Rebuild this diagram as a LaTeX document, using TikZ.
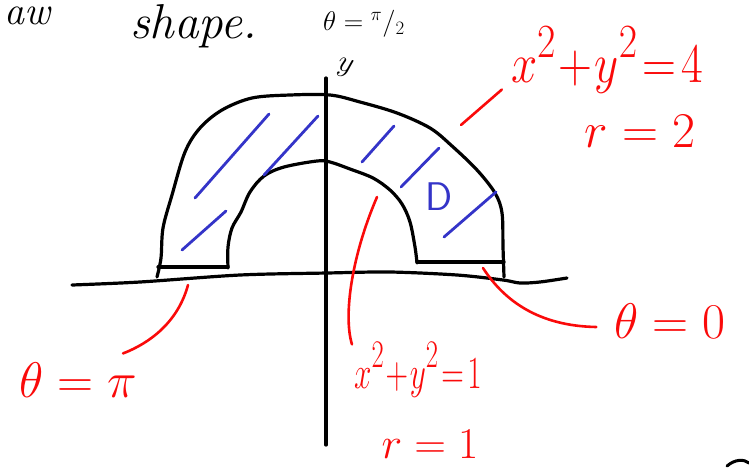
\RequirePackage{fix-cm}
\documentclass[tikz,border=0pt]{standalone}
\usetikzlibrary{calc}
\definecolor{hatchblue}{RGB}{52,52,200}
\definecolor{inkred}{RGB}{250,10,10}
\newcommand{\sqtwo}{\raisebox{0.45em}{\scalebox{0.85}{$2$}}}
\begin{document}
\begin{tikzpicture}[x=1pt,y=-1pt, line cap=round, line join=round,
 ink/.style={draw=black, line width=3.2pt},
 thinink/.style={draw=black, line width=2.4pt},
 redink/.style={draw=inkred, line width=2.6pt},
 blueink/.style={draw=hatchblue, line width=2.8pt},
 redtxt/.style={text=inkred, inner sep=0pt},
 blktxt/.style={text=black, inner sep=0pt},
]
\useasboundingbox (0,0) rectangle (749,467);

% axes
\draw[ink] plot[smooth, tension=0.5] coordinates {(72,285) (140,282) (240,275) (327,273) (390,272) (457,275) (503,280) (520,283) (540,282) (567,278)};
\draw[ink] (326,78) -- (326,445);

% outer boundary
\draw[ink] plot[smooth, tension=0.55] coordinates {(157,277) (161,258) (163,228) (172,195) (185,152) (200,128) (222,110) (252,98) (290,95) (330,95) (360,102) (397,113) (430,128) (452,146) (477,170) (495,193) (502,213) (503,247) (504,277)};
% inner boundary
\draw[ink] plot[smooth, tension=0.55] coordinates {(228,268) (228,247) (232,228) (241,212) (250,192) (264,176) (284,167) (317,161) (330,162) (350,169) (373,178) (390,190) (402,204) (410,222) (415,247) (417,263)};
% bottom edges
\draw[ink] (158,267) -- (228,267);
\draw[ink] (417,262) -- (504,262);

% hatching
\draw[blueink] (182,250) -- (226,211);
\draw[blueink] (195,198) -- (269,114);
\draw[blueink] (264,175) -- (318,116);
\draw[blueink] (362,162) -- (394,126);
\draw[blueink] (401,187) -- (439,148);
\draw[blueink] (444,237) -- (496,192);
\node[text=hatchblue, inner sep=0pt, font=\fontsize{40}{40}\selectfont\sffamily] (D) at (439,197) {D};

% texts
\node[blktxt, anchor=base west, font=\fontsize{40}{40}\selectfont\itshape] (draw) at (4,24) {aw};
\node[blktxt, anchor=base west, font=\fontsize{49}{49}\selectfont\itshape] (shape) at (130,38) {shape.};
\node[blktxt, font=\fontsize{27}{27}\selectfont] (half) at (364,24) {$\theta={}^{\pi}/_{2}$};
\node[blktxt, rotate=-15, font=\fontsize{30}{30}\selectfont] (ylab) at (345,68) {$y$};

\node[redtxt, font=\fontsize{56}{56}\selectfont] (eq4) at (607,60) {\scalebox{0.84}[1]{$x\sqtwo\!+\!y\sqtwo\!=\!4$}};
\node[redtxt, font=\fontsize{50}{50}\selectfont] (r2) at (640,131) {$r=2$};
\node[redtxt, font=\fontsize{46}{46}\selectfont] (eq1) at (418,370) {\scalebox{0.68}[1]{$x\sqtwo\!+\!y\sqtwo\!=\!1$}};
\node[redtxt, font=\fontsize{44}{44}\selectfont] (r1) at (430,444) {$r=1$};
\node[redtxt, font=\fontsize{50}{50}\selectfont] (thpi) at (78,380) {$\theta=\pi$};
\node[redtxt, font=\fontsize{50}{50}\selectfont] (thz) at (670,321) {$\theta=0$};

% leaders
\coordinate (pOut) at (461,125);
\coordinate (pIn) at (377,197);
\coordinate (pPi) at (188,285);
\coordinate (pZero) at (483,268);
\draw[redink] (pOut) -- ($(eq4.south west)+(-9,-4)$);
\draw[redink] (pIn) .. controls (352,255) and (343,315) .. ($(eq1.north west)+(-2,2)$);
\draw[redink] (pPi) .. controls (178,322) and (150,343) .. ($(thpi.north)+(45,-9)$);
\draw[redink] (pZero) .. controls (505,302) and (540,326) .. ($(thz.west)+(-18,6)$);

% stray stroke at the bottom right
\draw[thinink, line width=3pt] (727,466) .. controls (735,459) and (744,459) .. (749,463);
\end{tikzpicture}
\end{document}
